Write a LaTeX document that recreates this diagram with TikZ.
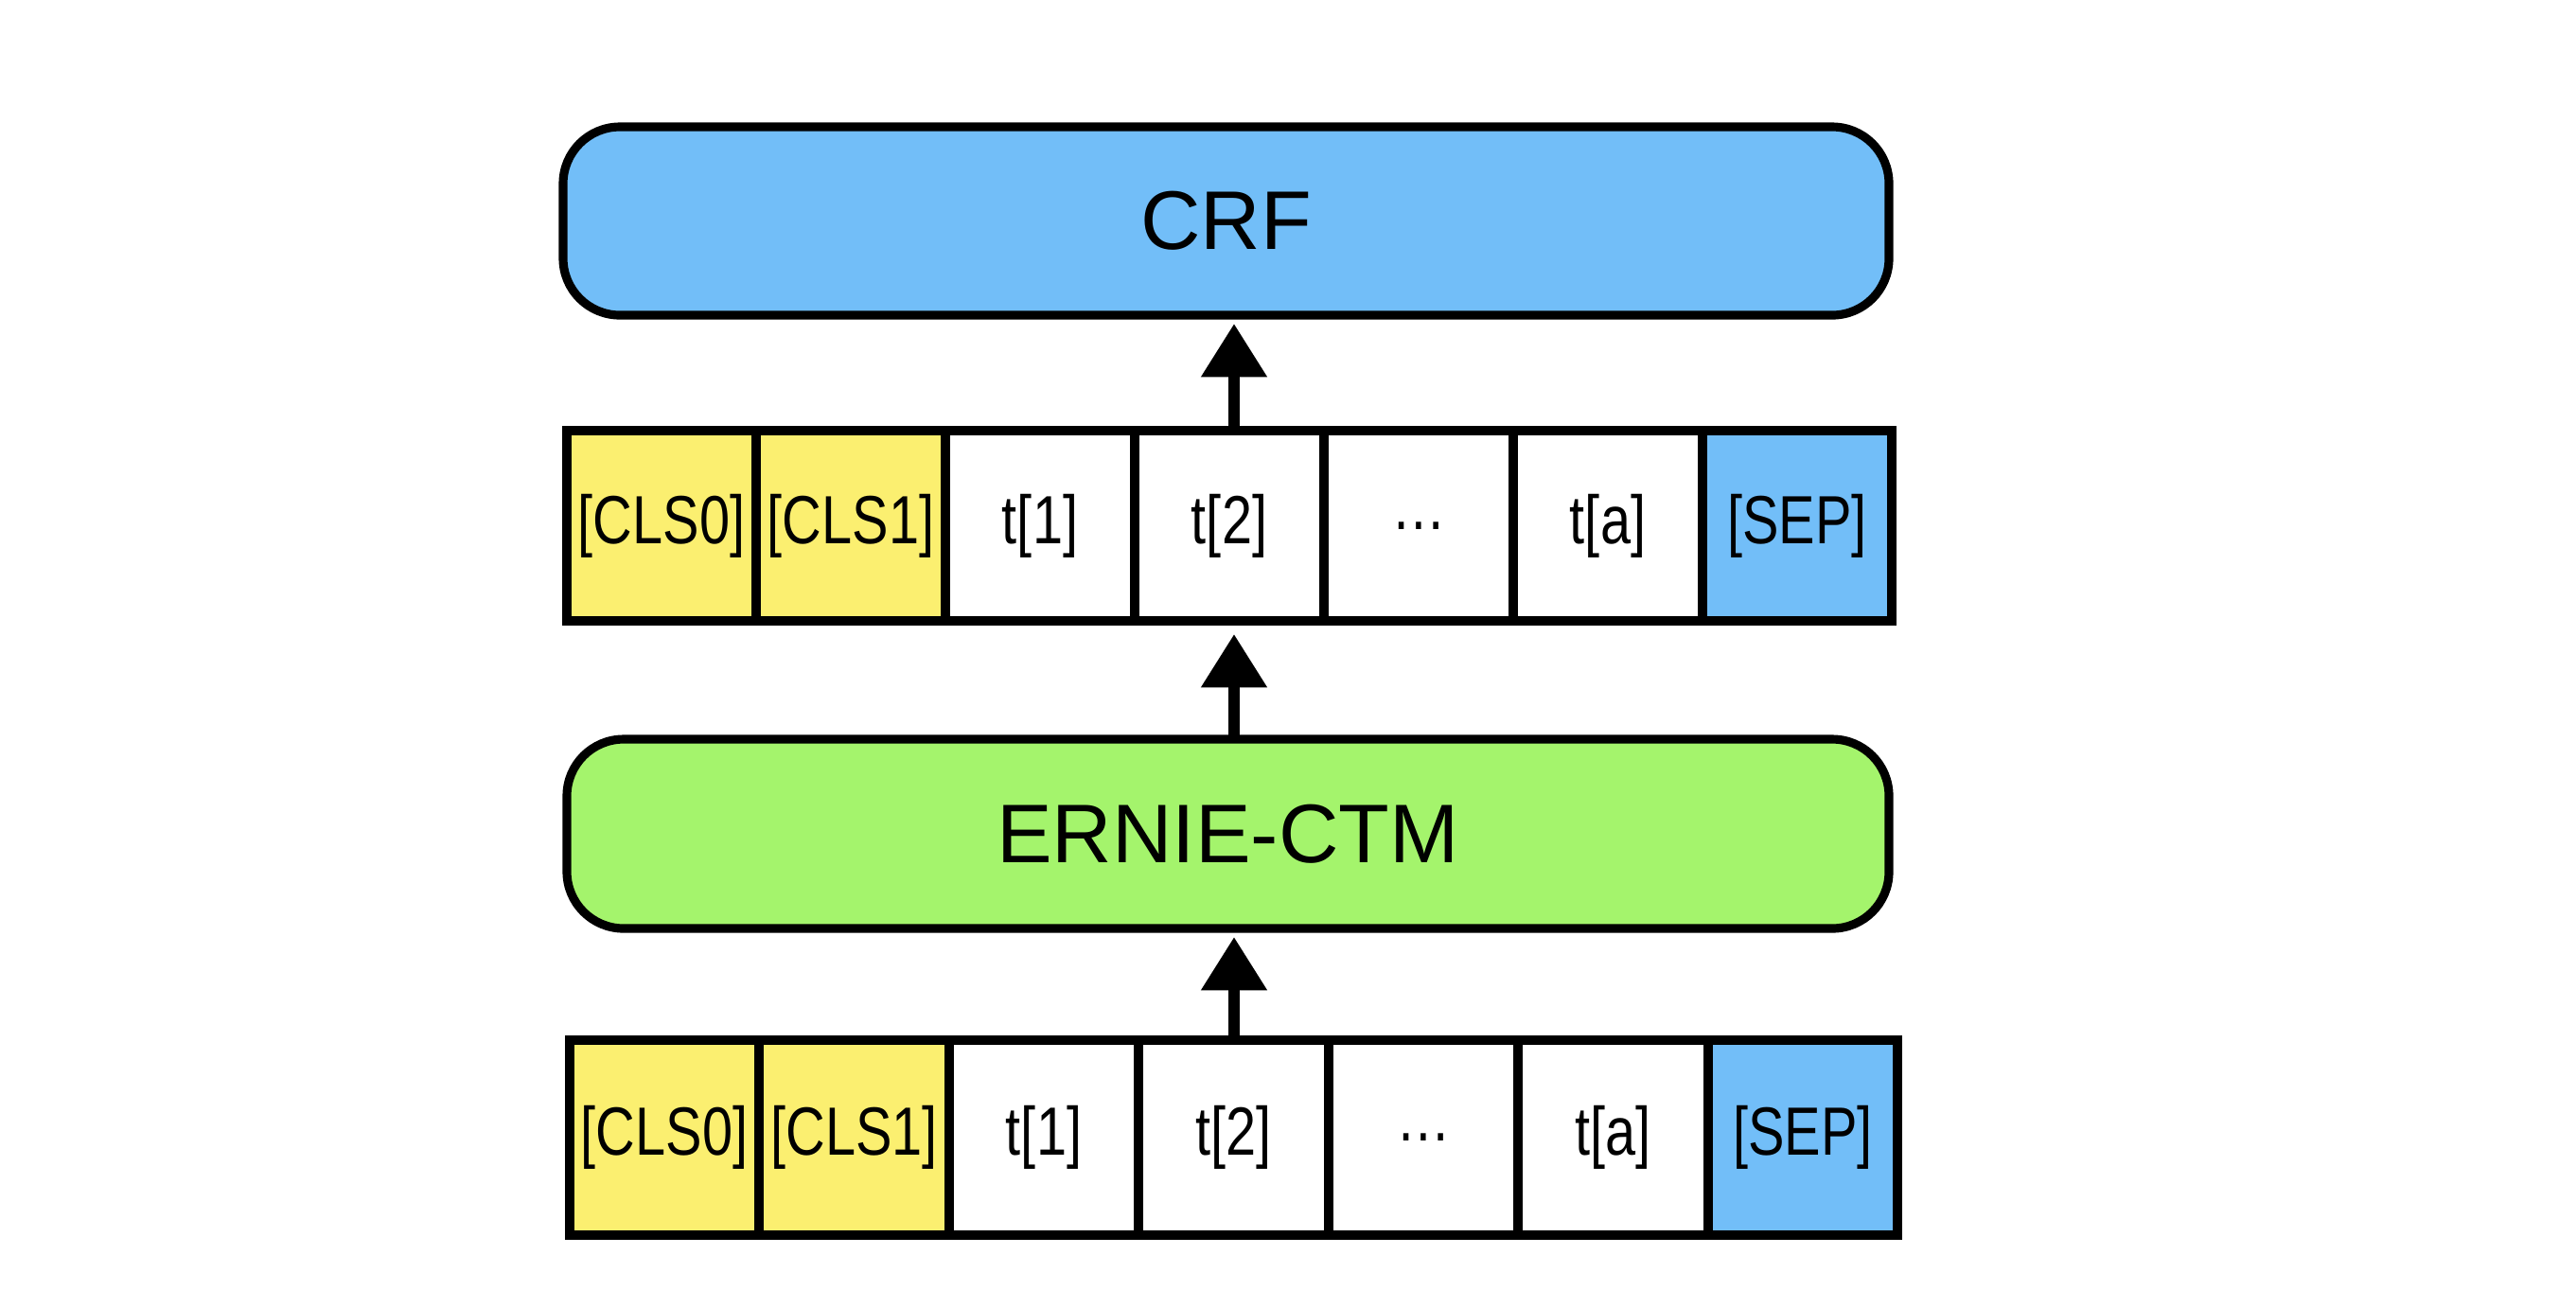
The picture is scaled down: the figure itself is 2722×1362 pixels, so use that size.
\documentclass[tikz,border=0pt]{standalone}
\usepackage{fontspec}
\setmainfont{Liberation Sans}
\newfontfamily\cellfont[FakeStretch=0.8]{Liberation Sans}
\usetikzlibrary{arrows.meta}
\definecolor{crfblue}{HTML}{72BEF8}
\definecolor{erniegreen}{HTML}{A4F46C}
\definecolor{clsyellow}{HTML}{FBEF70}
\tikzset{
  layerbox/.style={draw=black, line width=2.6pt, rounded corners=60*0.01cm, inner sep=0pt, outer sep=0pt, font=\fontsize{25}{30}\selectfont},
  cell/.style={draw=black, line width=2.6pt, minimum width=200*0.01cm, inner sep=0pt, outer sep=0pt, font=\cellfont\fontsize{20.5}{24}\selectfont},
  upflow/.style={line width=3.4pt, -{Triangle[width=19pt,length=16pt]}}
}
\begin{document}
\begin{tikzpicture}[x=0.01cm,y=-0.01cm]
\useasboundingbox (0,0) rectangle (2722,1362);
% CRF
\node[layerbox, fill=crfblue, minimum width=1401*0.01cm, minimum height=199*0.01cm] (crf) at (1295.5,233.5) {CRF};
% top row
\foreach \i/\t/\c in {0/{[CLS0]}/clsyellow,1/{[CLS1]}/clsyellow,2/{t[1]}/white,3/{t[2]}/white,4/{\dots}/white,5/{t[a]}/white,6/{[SEP]}/crfblue}{
  \node[cell, fill=\c, minimum height=201*0.01cm] (top\i) at ({699+200*\i},555.5) {\t};
}
% ERNIE
\node[layerbox, fill=erniegreen, minimum width=1397*0.01cm, minimum height=200*0.01cm] (ernie) at (1297.5,881) {ERNIE-CTM};
% bottom row
\foreach \i/\t/\c in {0/{[CLS0]}/clsyellow,1/{[CLS1]}/clsyellow,2/{t[1]}/white,3/{t[2]}/white,4/{\dots}/white,5/{t[a]}/white,6/{[SEP]}/crfblue}{
  \node[cell, fill=\c, minimum height=206*0.01cm] (bot\i) at ({702+200.5*\i},1202) {\t};
}
% arrows
\coordinate (a1s) at (1304,455);
\coordinate (a1e) at (1304,342);
\draw[upflow] (a1s) -- (a1e);
\coordinate (a2s) at (1304,781);
\coordinate (a2e) at (1304,670);
\draw[upflow] (a2s) -- (a2e);
\coordinate (a3s) at (1304,1099);
\coordinate (a3e) at (1304,990);
\draw[upflow] (a3s) -- (a3e);
\end{tikzpicture}
\end{document}
